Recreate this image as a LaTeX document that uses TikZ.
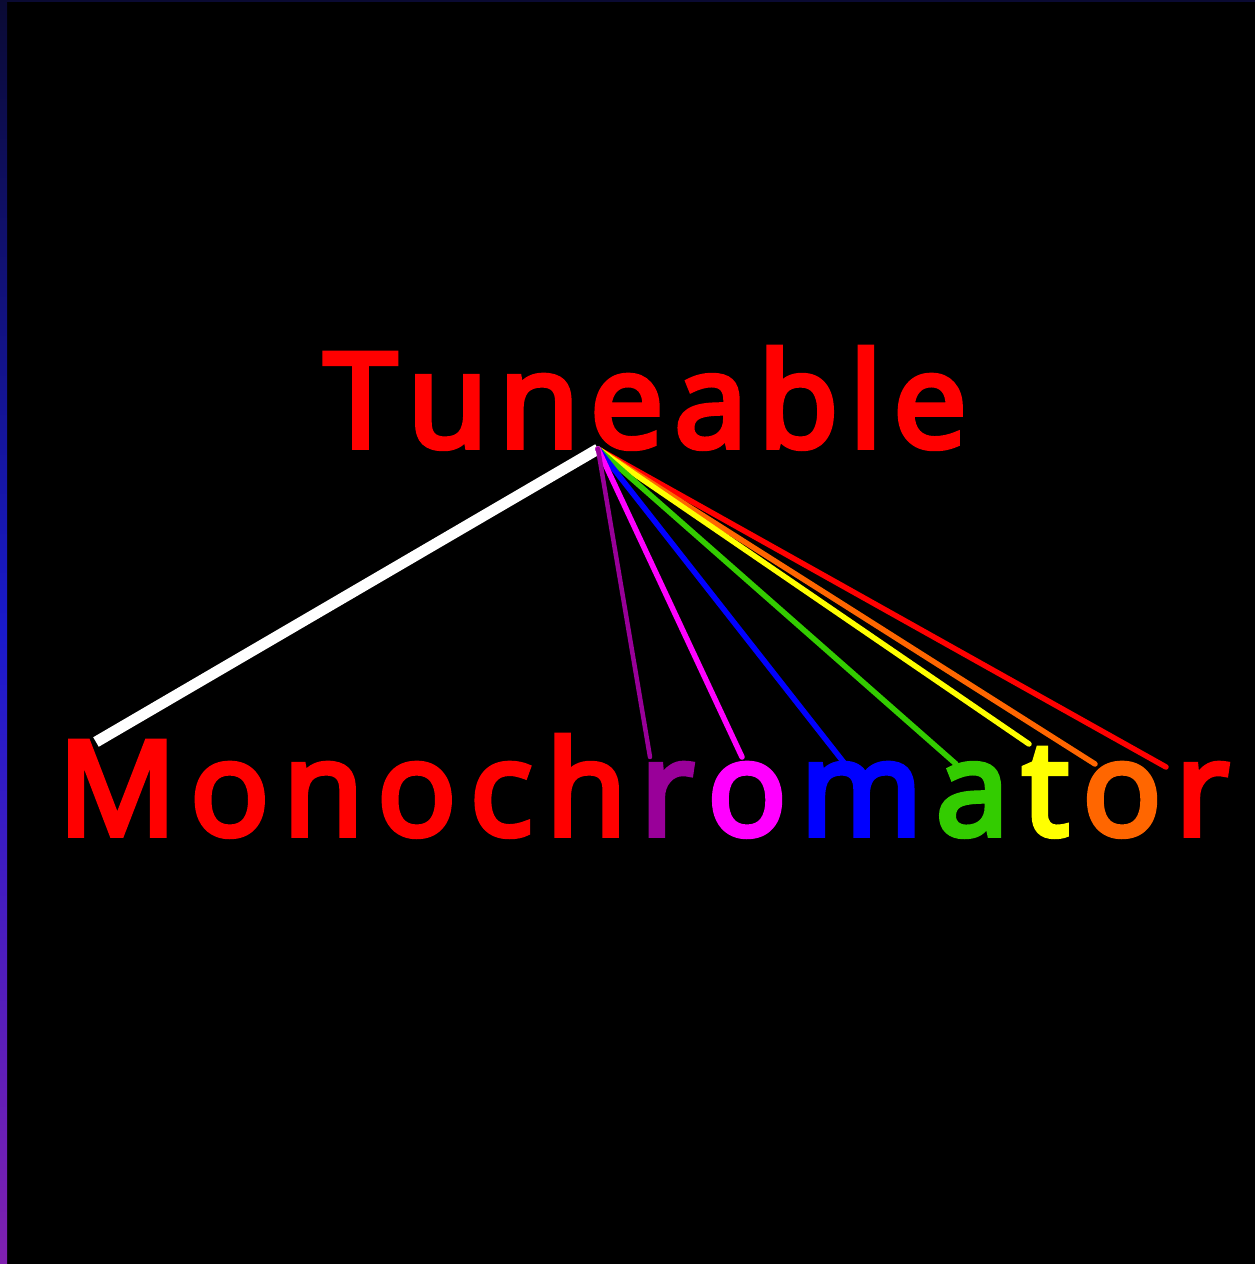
\documentclass[tikz,border=0pt]{standalone}
\usepackage{fontspec}
\setmainfont{Open Sans}
\newfontfamily\titlefont[FakeBold=4.5]{Open Sans}
\definecolor{cpurple}{HTML}{990099}
\definecolor{cmagenta}{HTML}{FF00FF}
\definecolor{cblue}{HTML}{0000FF}
\definecolor{cgreen}{HTML}{33CC00}
\definecolor{cyellow}{HTML}{FFFF00}
\definecolor{corange}{HTML}{FF6600}
\definecolor{cred}{HTML}{FF0000}
\definecolor{stripTop}{HTML}{0A0A33}
\definecolor{stripMid}{HTML}{1A1ACC}
\definecolor{stripBot}{HTML}{8020B0}
\newlength\natw
\newlength\gapA
\newlength\gapB
\newcommand\bigfont{\titlefont\fontsize{131}{131}\selectfont}
\newcommand\LA[2]{\textcolor{#1}{#2}\kern\gapA}
\newcommand\LB[2]{\textcolor{#1}{#2}\kern\gapB}
\begin{document}
\settowidth\natw{\bigfont Tuneable}
\setlength\gapA{\dimexpr(636pt-\natw)/7\relax}
\settowidth\natw{\bigfont Monochromator}
\setlength\gapB{\dimexpr(1168pt-\natw)/12\relax}
\begin{tikzpicture}[x=1pt,y=-1pt,
  ray/.style={line width=5.5pt, line cap=round},
  title/.style={inner sep=0pt, anchor=base west, font=\bigfont}]
\useasboundingbox (0,0) rectangle (1255,1264);
\fill[black] (0,0) rectangle (1255,1264);
\shade[top color=stripTop, bottom color=stripBot, middle color=stripMid] (0,0) rectangle (7,1264);
\fill[stripTop] (0,0) rectangle (1255,2);
\node[title] (tune) at (324,447) {\LA{cred}{T}\LA{cred}{u}\LA{cred}{n}\LA{cred}{e}\LA{cred}{a}\LA{cred}{b}\LA{cred}{l}\textcolor{cred}{e}};
\node[title] (mono) at (58,835) {\LB{cred}{M}\LB{cred}{o}\LB{cred}{n}\LB{cred}{o}\LB{cred}{c}\LB{cred}{h}\LB{cpurple}{r}\LB{cmagenta}{o}\LB{cblue}{m}\LB{cgreen}{a}\LB{cyellow}{t}\LB{corange}{o}\textcolor{cred}{r}};
\coordinate (apex) at (598,449);
\coordinate (ew) at (96,742);
\coordinate (ep) at (650,757);
\coordinate (em) at (742,757);
\coordinate (eb) at (845,764);
\coordinate (eg) at (956,764);
\coordinate (ey) at (1029,744);
\coordinate (eo) at (1095,764);
\coordinate (er) at (1166,767);
\draw[white, line width=11pt] (apex) -- (ew);
\draw[ray, cred] (apex) -- (er);
\draw[ray, corange] (apex) -- (eo);
\draw[ray, cyellow] (apex) -- (ey);
\draw[ray, cgreen] (apex) -- (eg);
\draw[ray, cblue] (apex) -- (eb);
\draw[ray, cmagenta] (apex) -- (em);
\draw[ray, cpurple, line width=4.5pt] (apex) -- (ep);
\end{tikzpicture}
\end{document}
